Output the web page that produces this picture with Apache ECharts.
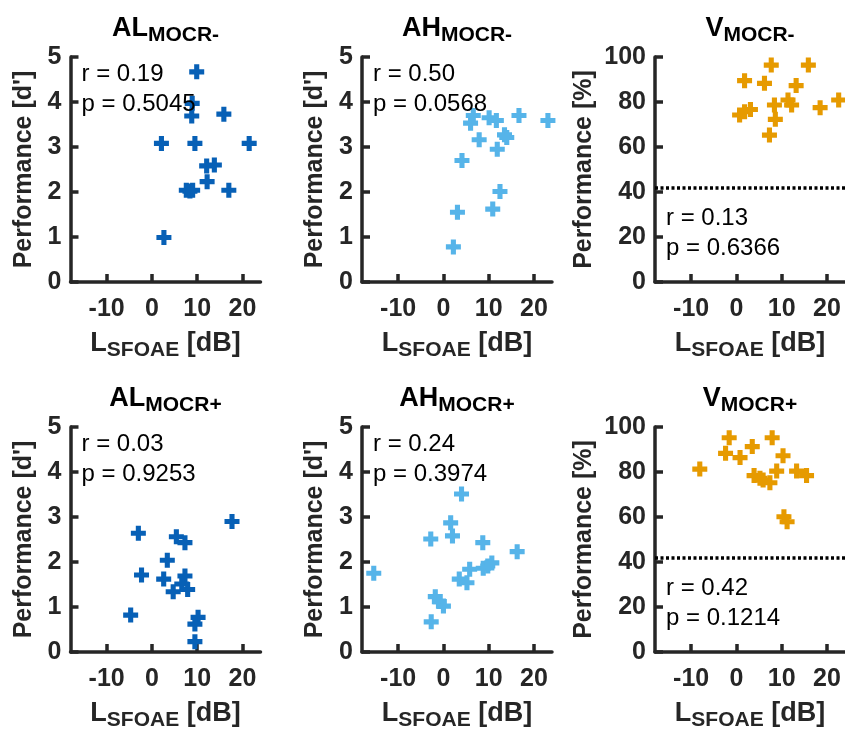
<!DOCTYPE html>
<html><head><meta charset="utf-8">
<script src="https://cdn.jsdelivr.net/npm/echarts@6/dist/echarts.min.js"></script>
<style>html,body{margin:0;padding:0;background:#fff}#c{width:845px;height:734px}</style>
</head><body><div id="c"></div>
<script>
// ---------- data ----------
const xTicks = [-10, 0, 10, 20];
const panelNames = ['AL', 'AH', 'V', 'AL', 'AH', 'V'];
const panelSubs = ['MOCR-', 'MOCR-', 'MOCR-', 'MOCR+', 'MOCR+', 'MOCR+'];
const statR = ['0.19', '0.50', '0.13', '0.03', '0.24', '0.42'];
const statP = ['0.5045', '0.0568', '0.6366', '0.9253', '0.3974', '0.1214'];
const chanceLevel = 42;

const AL_minus_x = [9.9, 8.9, 8.8, 15.9, 2.1, 9.5, 21.5, 12.1, 13.8, 12.2, 7.6, 8.4, 9.0, 17.0, 2.65];
const AL_minus_y = [4.67, 3.97, 3.69, 3.73, 3.08, 3.08, 3.08, 2.58, 2.60, 2.23, 2.04, 2.02, 2.04, 2.04, 0.99];
const AH_minus_x = [6.6, 6.0, 10.1, 11.7, 16.7, 23.1, 7.9, 13.5, 14.0, 11.9, 4.1, 12.5, 3.1, 10.9, 2.2];
const AH_minus_y = [3.70, 3.53, 3.65, 3.59, 3.70, 3.59, 3.16, 3.27, 3.21, 2.95, 2.70, 2.01, 1.55, 1.62, 0.78];
const V_minus_x = [7.7, 15.9, 1.8, 6.2, 13.2, 0.7, 1.8, 3.1, 8.4, 8.6, 7.3, 11.4, 12.2, 18.5, 22.6];
const V_minus_y = [96.4, 96.4, 89.5, 88.3, 87.3, 74.2, 75.7, 76.7, 78.7, 72.3, 65.3, 80.9, 78.7, 77.5, 80.9];
const AL_plus_x = [17.7, -3.0, 5.4, 7.3, 3.4, -2.3, 2.6, 7.3, 6.6, 7.9, 4.7, -4.7, 10.2, 9.5, 9.5];
const AL_plus_y = [2.90, 2.64, 2.56, 2.43, 2.04, 1.71, 1.62, 1.69, 1.51, 1.39, 1.34, 0.82, 0.77, 0.62, 0.23];
const AH_plus_x = [4.0, 1.6, 2.0, -2.8, 8.7, 16.3, -15.4, 5.8, 8.8, 9.8, 10.7, 3.5, 5.2, -1.8, -0.9, 0.0, -2.7];
const AH_plus_y = [3.51, 2.87, 2.58, 2.51, 2.43, 2.23, 1.75, 1.84, 1.86, 1.91, 1.98, 1.62, 1.54, 1.23, 1.12, 1.02, 0.67];
const V_plus_x = [-8.1, -1.6, -2.4, 0.8, 3.5, 7.9, 10.3, 3.9, 5.2, 5.9, 7.4, 8.9, 13.3, 15.5, 10.5, 11.2];
const V_plus_y = [81.3, 95.2, 88.3, 86.4, 91.3, 95.2, 87.2, 78.4, 77.2, 76.4, 75.2, 80.4, 80.4, 78.4, 60.1, 57.9];

// ---------- style ----------
const FONT = '"Liberation Sans", Arial, Helvetica, sans-serif';
const AXC = '#262626';
const C_AL = '#0760B6', C_AH = '#56B4E9', C_V = '#E69A00';
const PLUS = 'path://M3.3,0h3.4v3.3h3.3v3.4h-3.3v3.3h-3.4v-3.3h-3.3v-3.4h3.3z';

const panels = [
  {x: AL_minus_x, y: AL_minus_y, color: C_AL, pct: false},
  {x: AH_minus_x, y: AH_minus_y, color: C_AH, pct: false},
  {x: V_minus_x, y: V_minus_y, color: C_V, pct: true},
  {x: AL_plus_x, y: AL_plus_y, color: C_AL, pct: false},
  {x: AH_plus_x, y: AH_plus_y, color: C_AH, pct: false},
  {x: V_plus_x, y: V_plus_y, color: C_V, pct: true}
];

const colLeft = [70.5, 362, 655];
const rowTop = [57, 427];
const GW = 190, GH = 225;

const nameRich = {
  a: {fontSize: 27, fontWeight: 'bold', color: AXC, fontFamily: FONT, lineHeight: 31, verticalAlign: 'top'},
  s: {fontSize: 21, fontWeight: 'bold', color: AXC, fontFamily: FONT, lineHeight: 23, padding: [17, 0, 0, 0], verticalAlign: 'bottom'}
};
const titleRich = {
  a: {fontSize: 27, fontWeight: 'bold', color: '#000', fontFamily: FONT, lineHeight: 31, verticalAlign: 'top'},
  s: {fontSize: 21, fontWeight: 'bold', color: '#000', fontFamily: FONT, lineHeight: 23, padding: [17, 0, 0, 0], verticalAlign: 'bottom'}
};

const grid = [], xAxis = [], yAxis = [], series = [], graphic = [];
panels.forEach((p, i) => {
  const col = i % 3, row = Math.floor(i / 3);
  const L = colLeft[col], T = rowTop[row];
  grid.push({left: L, top: T, width: GW, height: GH});
  xAxis.push({
    type: 'value', gridIndex: i, min: -18, max: 24,
    axisLine: {show: true, onZero: false, lineStyle: {color: AXC, width: 3.5}},
    axisTick: {show: true, inside: true, length: 8, customValues: xTicks, lineStyle: {color: AXC, width: 3.5}},
    axisLabel: {customValues: xTicks, fontSize: 25, fontWeight: 'bold', color: AXC, fontFamily: FONT, margin: 15},
    splitLine: {show: false},
    name: '{a|L}{s|SFOAE}{a| [dB]}', nameLocation: 'middle', nameGap: 45,
    nameTextStyle: {rich: nameRich}
  });
  yAxis.push({
    type: 'value', gridIndex: i, min: 0, max: p.pct ? 100 : 5, interval: p.pct ? 20 : 1,
    axisLine: {show: true, onZero: false, lineStyle: {color: AXC, width: 3.5}},
    axisTick: {show: true, inside: true, length: 8, lineStyle: {color: AXC, width: 3.5}},
    axisLabel: {fontSize: 25, fontWeight: 'bold', color: AXC, fontFamily: FONT, margin: 9},
    splitLine: {show: false},
    name: p.pct ? 'Performance [%]' : "Performance [d']", nameLocation: 'middle', nameGap: p.pct ? 58 : 34,
    nameTextStyle: {fontSize: 25, fontWeight: 'bold', color: AXC, fontFamily: FONT}
  });
  const s = {
    type: 'scatter', xAxisIndex: i, yAxisIndex: i, clip: false,
    symbol: PLUS, symbolSize: 15,
    itemStyle: {color: p.color, opacity: 1},
    data: p.x.map((v, k) => [v, p.y[k]]),
    z: 3
  };
  if (p.pct) {
    s.markLine = {
      silent: true, symbol: 'none', label: {show: false},
      lineStyle: {color: '#000', width: 3.5, type: [3, 2.5]},
      data: [{yAxis: chanceLevel}]
    };
  }
  series.push(s);
  // title
  graphic.push({
    type: 'text', x: L + GW / 2, y: T - 42,
    style: {text: '{a|' + panelNames[i] + '}{s|' + panelSubs[i] + '}', rich: titleRich, align: 'center', verticalAlign: 'top'}
  });
  // stats
  const y1 = p.pct ? T + 161 : T + 17.5;
  graphic.push({type: 'text', x: L + 11, y: y1, z: 10,
    style: {text: 'r = ' + statR[i], fontSize: 24, fontFamily: FONT, fill: '#000', align: 'left', verticalAlign: 'middle'}});
  graphic.push({type: 'text', x: L + 11, y: y1 + 30, z: 10,
    style: {text: 'p = ' + statP[i], fontSize: 24, fontFamily: FONT, fill: '#000', align: 'left', verticalAlign: 'middle'}});
});

const chart = echarts.init(document.getElementById('c'), null, {renderer: 'canvas'});
chart.setOption({animation: false, backgroundColor: '#fff', grid, xAxis, yAxis, series, graphic});
</script></body></html>
